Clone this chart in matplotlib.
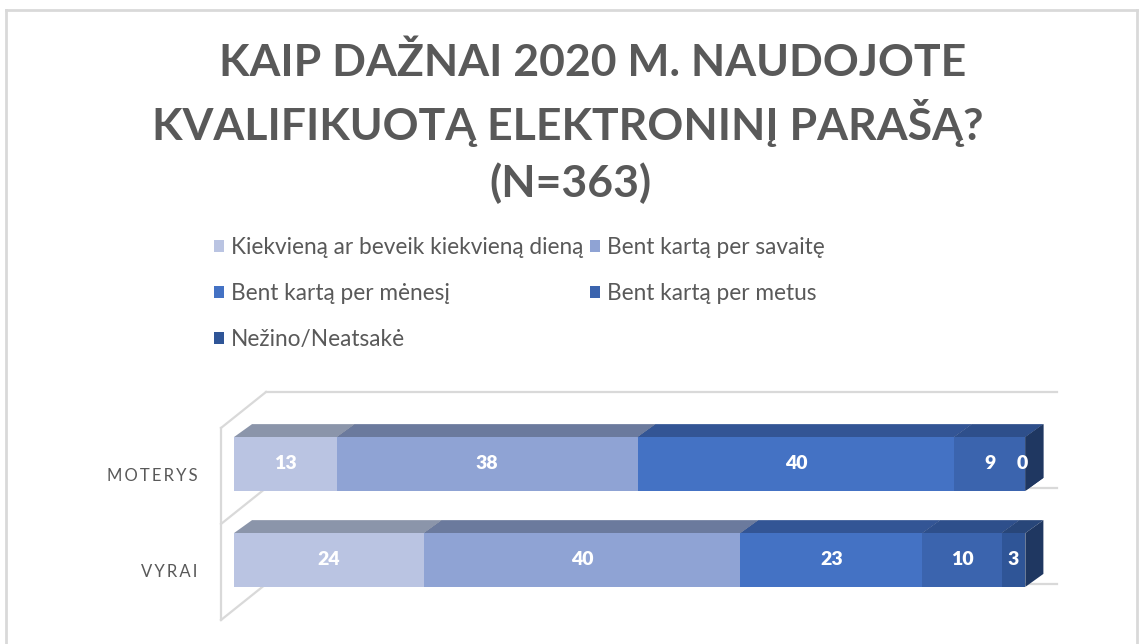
import matplotlib
matplotlib.use('Agg')
import matplotlib.pyplot as plt
from matplotlib.patches import Polygon, Rectangle
from matplotlib.lines import Line2D

# ---------------- data ----------------
title_lines = ['KAIP DAŽNAI 2020 M. NAUDOJOTE', 'KVALIFIKUOTĄ ELEKTRONINĮ PARAŠĄ?', '(N=363)']
categories = ['MOTERYS', 'VYRAI']
series_names = ['Kiekvieną ar beveik kiekvieną dieną', 'Bent kartą per savaitę',
                'Bent kartą per mėnesį', 'Bent kartą per metus', 'Nežino/Neatsakė']
moterys = [13, 38, 40, 9, 0]
vyrai = [24, 40, 23, 10, 3]
values = [moterys, vyrai]

# ---------------- style ----------------
front_colors = ['#bac4e2', '#8fa3d4', '#4472c4', '#3b64ae', '#2f5597']
top_colors = ['#8b95aa', '#6b7a9d', '#335595', '#2e4f8b', '#284679']
side_colors = ['#6e7587', '#56607c', '#2a467c', '#243f6f', '#1f3761']
legend_colors = front_colors
grid_col = '#d9d9d9'
text_col = '#595959'
FONT = ['Lato', 'DejaVu Sans']

W, H = 1145, 644
fig = plt.figure(figsize=(W / 100, H / 100), dpi=100)
fig.patch.set_facecolor('white')

# chart frame
fx0, fx1, fy0 = 6 / W, 1137 / W, 1 - 10 / H
fig.add_artist(Line2D([fx0, fx1], [fy0, fy0], transform=fig.transFigure, color='#d9d9d9', lw=2))
fig.add_artist(Line2D([fx0, fx0], [0, fy0], transform=fig.transFigure, color='#d9d9d9', lw=2))
fig.add_artist(Line2D([fx1, fx1], [0, fy0], transform=fig.transFigure, color='#d9d9d9', lw=2))

# axes (plot area)
ax = fig.add_axes([221 / W, 24 / H, (1057 - 221) / W, (620 - 391) / H])
ax.set_xlim(-1.64, 104.0)
ax.set_ylim(-0.625, 1.76)
ax.axis('off')

ypos = [1, 0]
bar_h = 0.56
ddx, ddy = 2.28, 0.135        # bar depth offset (data units)
wdx, wdy = 5.69, 0.375        # wall depth offset

# wall / floor lines
xl = -1.64
front_levels = [1.375, 0.375, -0.625]
ax.plot([xl, xl], [front_levels[-1], front_levels[0]], color=grid_col, lw=1.6, zorder=1, clip_on=False)
for fl in front_levels:
    ax.plot([xl, xl + wdx], [fl, fl + wdy], color=grid_col, lw=1.6, zorder=1, clip_on=False)
    ax.plot([xl + wdx, 104.0], [fl + wdy, fl + wdy], color=grid_col, lw=1.6, zorder=1, clip_on=False)

# bars
z = 3
for yc, vals in zip(ypos, values):
    y0, y1 = yc - bar_h / 2, yc + bar_h / 2
    left = 0
    for i, v in enumerate(vals):
        x0, x1 = left, left + v
        ax.add_patch(Polygon([(x0, y1), (x0 + ddx, y1 + ddy), (x1 + ddx, y1 + ddy), (x1, y1)],
                             closed=True, facecolor=top_colors[i], edgecolor='none', zorder=z))
        ax.add_patch(Polygon([(x1, y0), (x1 + ddx, y0 + ddy), (x1 + ddx, y1 + ddy), (x1, y1)],
                             closed=True, facecolor=side_colors[i], edgecolor='none', zorder=z))
        ax.add_patch(Rectangle((x0, y0), v, bar_h, facecolor=front_colors[i], edgecolor='none', zorder=z + 0.5))
        z += 1
        cx = (x0 + x1) / 2 if v > 0 else x1 - 0.4
        ax.text(cx, yc, f'{v}', ha='center', va='center', color='white',
                fontsize=14, fontweight='heavy', family=FONT, zorder=100)
        left = x1

# category labels
for yc, cat in zip(ypos, categories):
    ax.text(-1.64 - 3.0, yc - 0.125, '\u2009'.join(cat), ha='right', va='center',
            color=text_col, fontsize=12, family=FONT, clip_on=False)

# title (one text per line, Excel-style placement)
title_x = [593, 568, 570]
title_y = [63, 123, 183]
for line, tx, ty in zip(title_lines, title_x, title_y):
    fig.text(tx / W, 1 - ty / H, line, ha='center', va='center', color=text_col,
             fontsize=32, fontweight='bold', family=FONT)

# legend (Excel order row-wise -> reorder for column-major filling)
handles = [Rectangle((0, 0), 1, 1, facecolor=c, edgecolor='none') for c in legend_colors]
order = [0, 2, 4, 1, 3]
leg = fig.legend([handles[i] for i in order], [series_names[i] for i in order],
                 ncol=2, loc='upper left', bbox_to_anchor=(214 / W, 1 - 237 / H),
                 frameon=False, prop={'family': FONT, 'size': 16.3},
                 handlelength=0.45, handleheight=0.45, handletextpad=0.3,
                 columnspacing=0.3, labelspacing=1.1, borderpad=0, borderaxespad=0)
for t in leg.get_texts():
    t.set_color(text_col)

fig.savefig('out.png', dpi=100, facecolor='white')
